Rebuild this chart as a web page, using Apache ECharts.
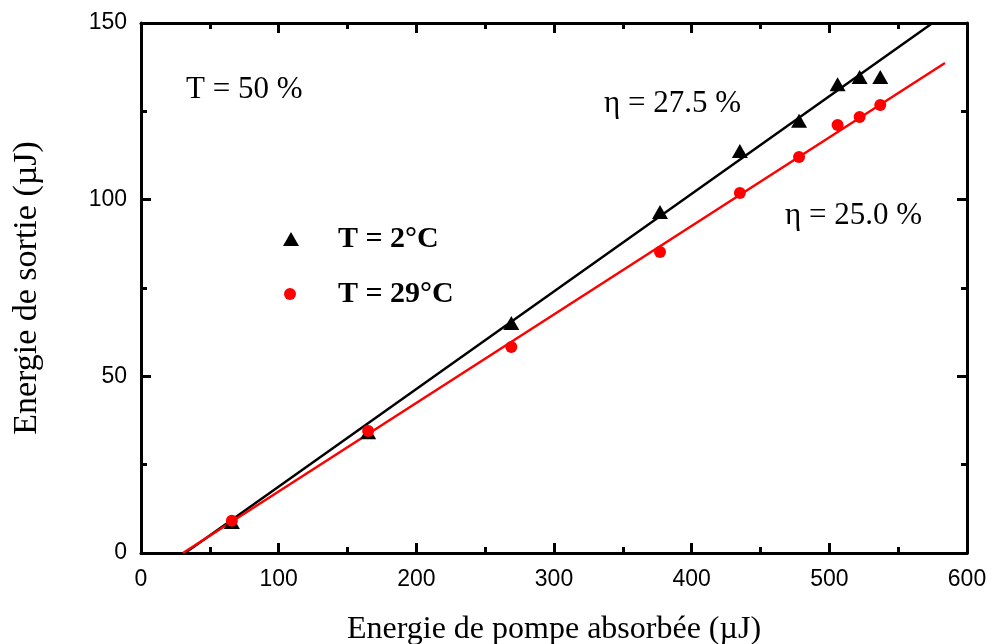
<!DOCTYPE html>
<html>
<head>
<meta charset="utf-8">
<script src="https://cdn.jsdelivr.net/npm/echarts@6/dist/echarts.min.js"></script>
<style>html,body{margin:0;padding:0;background:#fff}#c{width:992px;height:644px}</style>
</head>
<body>
<div id="c"></div>
<script>
// Data
var pumpEnergy = [66, 165, 269, 377, 435, 478, 506, 522, 537];
var out2C = [8.8, 34.2, 65.1, 96.5, 113.8, 122.3, 132.7, 134.7, 134.7];
var out29C = [9.1, 34.5, 58.3, 85.2, 101.9, 112.1, 121.1, 123.4, 126.8];
var fit2C = [[32, 0], [575, 150]];
var fit29C = [[30.5, 0], [584, 138.7]];
var seriesNames = ['T = 2°C', 'T = 29°C'];
var annotations = ['T = 50 %', 'η = 27.5 %', 'η = 25.0 %'];
var xTitle = 'Energie de pompe absorbée (µJ)';
var yTitle = 'Energie de sortie (µJ)';

function pairs(xs, ys) { return xs.map(function (x, i) { return [x, ys[i]]; }); }

var serif = '"Liberation Serif", "DejaVu Serif", serif';
var sans = '"Liberation Sans", Arial, sans-serif';
var axisCommon = {
  axisLine: { show: true, onZero: false, lineStyle: { color: '#000', width: 3 } },
  axisTick: { show: true, inside: true, length: 10, lineStyle: { color: '#000', width: 3 } },
  minorTick: { show: true, splitNumber: 2, length: 6, lineStyle: { color: '#000', width: 3 } },
  splitLine: { show: false }
};
function ax(extra) { return Object.assign({}, JSON.parse(JSON.stringify(axisCommon)), extra); }

var chart = echarts.init(document.getElementById('c'), null, { renderer: 'canvas' });
chart.setOption({
  animation: false,
  backgroundColor: '#fff',
  grid: { left: 141, right: 25, top: 23, bottom: 91, containLabel: false, outerBoundsMode: 'none' },
  xAxis: [
    ax({ type: 'value', min: 0, max: 600, interval: 100, position: 'bottom',
      name: xTitle, nameLocation: 'middle', nameGap: 61,
      nameTextStyle: { fontFamily: serif, fontSize: 32, color: '#000' },
      axisLabel: { fontFamily: sans, fontSize: 23, color: '#000', margin: 15 } }),
    ax({ type: 'value', min: 0, max: 600, interval: 100, position: 'top', axisLabel: { show: false } })
  ],
  yAxis: [
    ax({ type: 'value', min: 0, max: 150, interval: 50, position: 'left',
      name: yTitle, nameLocation: 'middle', nameGap: 97, nameRotate: 90,
      nameTextStyle: { fontFamily: serif, fontSize: 34, color: '#000' },
      axisLabel: { fontFamily: sans, fontSize: 23, color: '#000', margin: 14 } }),
    ax({ type: 'value', min: 0, max: 150, interval: 50, position: 'right', axisLabel: { show: false } })
  ],
  legend: [
    { data: [seriesNames[0]], left: 283, top: 224, padding: 0, itemWidth: 16, itemHeight: 14, itemGap: 0,
      icon: 'triangle', selectedMode: false,
      textStyle: { fontFamily: serif, fontSize: 30, fontWeight: 'bold', color: '#000', padding: [0, 0, 8, 34] } },
    { data: [seriesNames[1]], left: 284, top: 279, padding: 0, itemWidth: 12, itemHeight: 12, itemGap: 0,
      icon: 'circle', selectedMode: false,
      textStyle: { fontFamily: serif, fontSize: 30, fontWeight: 'bold', color: '#000', padding: [0, 0, 6, 37] } }
  ],
  series: [
    { name: 'fit2', type: 'line', data: fit2C, symbol: 'none',
      lineStyle: { color: '#000', width: 2.5 }, z: 2, clip: true },
    { name: 'fit29', type: 'line', data: fit29C, symbol: 'none',
      lineStyle: { color: '#ff0000', width: 2.5 }, z: 2 },
    { name: seriesNames[0], type: 'scatter', data: pairs(pumpEnergy, out2C), symbol: 'triangle',
      symbolSize: [16, 14], itemStyle: { color: '#000', opacity: 1 }, z: 3 },
    { name: seriesNames[1], type: 'scatter', data: pairs(pumpEnergy, out29C), symbol: 'circle',
      symbolSize: 12, itemStyle: { color: '#ff0000', opacity: 1 }, z: 4 }
  ],
  graphic: [
    { type: 'text', left: 186, top: 74, style: { text: annotations[0], fontFamily: serif, fontSize: 31, fill: '#000' } },
    { type: 'text', left: 604, top: 88, style: { text: annotations[1], fontFamily: serif, fontSize: 31, fill: '#000' } },
    { type: 'text', left: 785, top: 200, style: { text: annotations[2], fontFamily: serif, fontSize: 31, fill: '#000' } }
  ]
});
</script>
</body>
</html>
